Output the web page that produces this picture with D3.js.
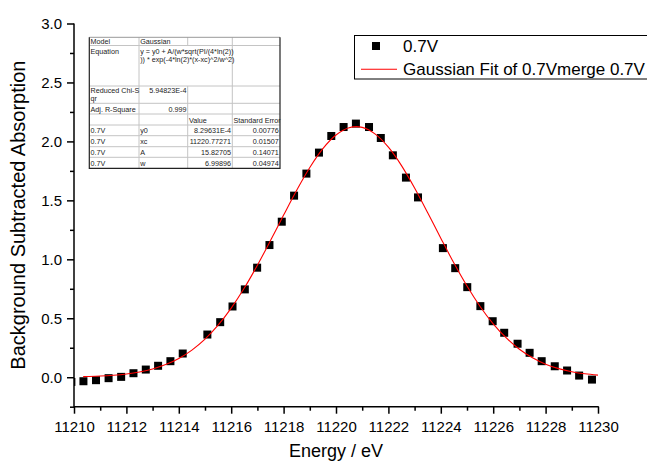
<!DOCTYPE html>
<html>
<head>
<meta charset="utf-8">
<script src="https://cdn.jsdelivr.net/npm/d3@7"></script>
<style>
  html, body { margin: 0; padding: 0; background: #fff; }
  svg { display: block; }
  text { font-family: Arial, "Liberation Sans", sans-serif; }
</style>
</head>
<body>
<svg id="chart" width="647" height="464"></svg>
<script>
// ---- data ----
const energy = [11209.9, 11210.36, 11210.84, 11211.32, 11211.80, 11212.27, 11212.74, 11213.21, 11213.68, 11214.15,
  11215.09, 11215.58, 11216.05, 11216.52, 11216.99, 11217.46, 11217.93, 11218.40, 11218.87, 11219.35,
  11219.82, 11220.29, 11220.76, 11221.26, 11221.71, 11222.17, 11222.67, 11223.13, 11224.08, 11224.55,
  11225.01, 11225.51, 11225.98, 11226.42, 11226.93, 11227.39, 11227.85, 11228.35, 11228.82, 11229.28, 11229.77];
const absorption = [-0.04, -0.034, -0.025, -0.008, 0.003, 0.034, 0.065, 0.097, 0.136, 0.201,
  0.362, 0.467, 0.600, 0.745, 0.929, 1.121, 1.319, 1.540, 1.727, 1.905,
  2.046, 2.122, 2.151, 2.122, 2.029, 1.882, 1.693, 1.525, 1.095, 0.925,
  0.764, 0.603, 0.475, 0.377, 0.284, 0.207, 0.136, 0.093, 0.057, 0.014, -0.020];

const fitEnergy = [11210.35, 11210.5, 11211, 11211.5, 11212, 11212.5, 11213, 11213.5, 11214, 11214.5,
  11215, 11215.5, 11216, 11216.5, 11217, 11217.5, 11218, 11218.5, 11219, 11219.5,
  11220, 11220.5, 11220.77, 11221, 11221.5, 11222, 11222.5, 11223, 11223.5, 11224,
  11224.5, 11225, 11225.5, 11226, 11226.5, 11227, 11227.5, 11228, 11228.5, 11229, 11229.5, 11230];
const fitValues = [0.005, 0.006, 0.010, 0.017, 0.028, 0.045, 0.070, 0.107, 0.159, 0.230,
  0.323, 0.441, 0.586, 0.756, 0.950, 1.159, 1.375, 1.586, 1.779, 1.939,
  2.054, 2.116, 2.125, 2.119, 2.062, 1.951, 1.795, 1.605, 1.395, 1.179,
  0.968, 0.773, 0.600, 0.453, 0.333, 0.237, 0.165, 0.111, 0.073, 0.047, 0.029, 0.018];

const xMajorTicks = [11210, 11212, 11214, 11216, 11218, 11220, 11222, 11224, 11226, 11228, 11230];
const xMinorTicks = [11211, 11213, 11215, 11217, 11219, 11221, 11223, 11225, 11227, 11229];
const yMajorTicks = [0.0, 0.5, 1.0, 1.5, 2.0, 2.5, 3.0];
const yMinorTicks = [-0.25, 0.25, 0.75, 1.25, 1.75, 2.25, 2.75];

const seriesName = "0.7V";
const fitName = "Gaussian Fit of 0.7Vmerge 0.7V";
const xTitle = "Energy / eV";
const yTitle = "Background Subtracted Absorption";

const tableColLabels = ["", "", "Value", "Standard Error"];
const tableModel = ["Model", "Gaussian"];
const tableEquation = ["Equation", "y = y0 + A/(w*sqrt(PI/(4*ln(2))", ")) * exp(-4*ln(2)*(x-xc)^2/w^2)"];
const tableChi = ["Reduced Chi-S", "qr", "5.94823E-4"];
const tableR2 = ["Adj. R-Square", "0.999"];
const paramSeries = ["0.7V", "0.7V", "0.7V", "0.7V"];
const paramNames = ["y0", "xc", "A", "w"];
const paramValues = ["8.29631E-4", "11220.77271", "15.82705", "6.99896"];
const paramErrors = ["0.00776", "0.01507", "0.14071", "0.04974"];

// ---- layout ----
const svg = d3.select("#chart");
const plot = { left: 74, right: 598, top: 23.5, bottom: 406.7 };

const x = d3.scaleLinear().domain([11210, 11230]).range([plot.left, plot.right]);
const y = d3.scaleLinear().domain([-0.25, 3.0]).range([plot.bottom, plot.top]);

svg.append("defs").append("clipPath").attr("id", "clip")
  .append("rect")
  .attr("x", plot.left).attr("y", plot.top - 5)
  .attr("width", plot.right - plot.left + 5).attr("height", plot.bottom - plot.top + 5);

// ---- axes ----
const tickFont = "15px";
const xAxisMajor = d3.axisBottom(x).tickValues(xMajorTicks).tickSize(7).tickPadding(8).tickFormat(d3.format("d"));
const xAxisMinor = d3.axisBottom(x).tickValues(xMinorTicks).tickSize(4).tickFormat("");
const yAxisMajor = d3.axisLeft(y).tickValues(yMajorTicks).tickSize(7).tickPadding(5).tickFormat(d3.format(".1f"));
const yAxisMinor = d3.axisLeft(y).tickValues(yMinorTicks).tickSize(4).tickFormat("");

function styleAxis(g) {
  g.select(".domain").remove();
  g.selectAll("line").attr("stroke", "#000").attr("stroke-width", 1.5);
  g.selectAll("text").attr("fill", "#000").style("font-size", tickFont)
    .style("font-family", "Arial, 'Liberation Sans', sans-serif");
}

svg.append("g").attr("transform", `translate(0,${plot.bottom})`).call(xAxisMinor).call(styleAxis);
svg.append("g").attr("transform", `translate(0,${plot.bottom})`).call(xAxisMajor).call(styleAxis);
svg.append("g").attr("transform", `translate(${plot.left},0)`).call(yAxisMinor).call(styleAxis);
svg.append("g").attr("transform", `translate(${plot.left},0)`).call(yAxisMajor).call(styleAxis);

// axis lines
svg.append("line").attr("x1", plot.left).attr("x2", plot.right + 0.75)
  .attr("y1", plot.bottom).attr("y2", plot.bottom).attr("stroke", "#000").attr("stroke-width", 1.5);
svg.append("line").attr("x1", plot.left).attr("x2", plot.left)
  .attr("y1", plot.top).attr("y2", plot.bottom + 0.75).attr("stroke", "#000").attr("stroke-width", 1.5);

// axis titles
svg.append("text").attr("x", (plot.left + plot.right) / 2).attr("y", 457)
  .attr("text-anchor", "middle").style("font-size", "18px").text(xTitle);
svg.append("text").attr("transform", `translate(25,${(plot.top + plot.bottom) / 2}) rotate(-90)`)
  .attr("text-anchor", "middle").style("font-size", "20px").text(yTitle);

// ---- data ----
const dataG = svg.append("g").attr("clip-path", "url(#clip)");
const pts = energy.map((e, i) => ({ e, v: absorption[i] }));
const sq = 8;
dataG.selectAll("rect.pt").data(pts).join("rect").attr("class", "pt")
  .attr("x", d => x(d.e) - sq / 2).attr("y", d => y(d.v) - sq / 2)
  .attr("width", sq).attr("height", sq).attr("fill", "#000");

const fit = fitEnergy.map((e, i) => ({ e, v: fitValues[i] }));
dataG.append("path").datum(fit)
  .attr("d", d3.line().x(d => x(d.e)).y(d => y(d.v)).curve(d3.curveMonotoneX))
  .attr("fill", "none").attr("stroke", "#ff0000").attr("stroke-width", 1.1);

// ---- legend ----
const lg = svg.append("g");
lg.append("rect").attr("x", 354.5).attr("y", 35.5).attr("width", 300).attr("height", 43.5)
  .attr("fill", "#fff").attr("stroke", "#000").attr("stroke-width", 1);
lg.append("rect").attr("x", 376 - sq / 2).attr("y", 46 - sq / 2).attr("width", sq).attr("height", sq).attr("fill", "#000");
lg.append("text").attr("x", 403).attr("y", 46).attr("dy", "0.35em").style("font-size", "17px").text(seriesName);
lg.append("line").attr("x1", 361).attr("x2", 397).attr("y1", 69.3).attr("y2", 69.3)
  .attr("stroke", "#ff0000").attr("stroke-width", 1.1);
lg.append("text").attr("x", 403).attr("y", 69).attr("dy", "0.35em").style("font-size", "17px").text(fitName);

// ---- fit table ----
const cols = [89.3, 139, 187.7, 232.3, 280];
const rowsY = [37.3, 45.5, 86, 103.3, 114, 125, 135.7, 146.7, 157.3, 168.3];
const tg = svg.append("g");
tg.append("rect").attr("x", cols[0]).attr("y", rowsY[0]).attr("width", cols[4] - cols[0])
  .attr("height", rowsY[9] - rowsY[0]).attr("fill", "#fff");
const gridC = "#c4c4c4";
rowsY.slice(1, -1).forEach(yy => {
  tg.append("line").attr("x1", cols[0]).attr("x2", cols[4]).attr("y1", yy).attr("y2", yy)
    .attr("stroke", gridC).attr("stroke-width", 1);
});
[cols[1], cols[3]].forEach(xx => {
  tg.append("line").attr("x1", xx).attr("x2", xx).attr("y1", rowsY[0]).attr("y2", rowsY[9])
    .attr("stroke", gridC).attr("stroke-width", 1);
});
tg.append("line").attr("x1", cols[2]).attr("x2", cols[2]).attr("y1", rowsY[0]).attr("y2", rowsY[1])
  .attr("stroke", gridC).attr("stroke-width", 1);
tg.append("line").attr("x1", cols[2]).attr("x2", cols[2]).attr("y1", rowsY[2]).attr("y2", rowsY[9])
  .attr("stroke", gridC).attr("stroke-width", 1);
tg.append("line").attr("x1", cols[0]).attr("x2", cols[4]).attr("y1", rowsY[0]).attr("y2", rowsY[0])
  .attr("stroke", "#999").attr("stroke-width", 1);
tg.append("path")
  .attr("d", `M${cols[0]},${rowsY[0]} V${rowsY[9]} H${cols[4]} V${rowsY[0]}`)
  .attr("fill", "none").attr("stroke", "#222").attr("stroke-width", 1.2);

const tf = "7.2px";
function cell(txt, xx, yy, anchor) {
  tg.append("text").attr("x", xx).attr("y", yy).attr("text-anchor", anchor || "start")
    .style("font-size", tf).attr("fill", "#222").text(txt);
}
const pad = 1.2;
cell(tableModel[0], cols[0] + pad, 44);
cell(tableModel[1], cols[1] + pad, 44);
cell(tableEquation[0], cols[0] + pad, 53.5);
cell(tableEquation[1], cols[1] + pad, 53.5);
cell(tableEquation[2], cols[1] + pad, 61.5);
cell(tableChi[0], cols[0] + pad, 93);
cell(tableChi[1], cols[0] + pad, 100.5);
cell(tableChi[2], cols[2] - pad, 93, "end");
cell(tableR2[0], cols[0] + pad, 111.5);
cell(tableR2[1], cols[2] - pad, 111.5, "end");
cell(tableColLabels[2], cols[2] + pad, 122.5);
cell(tableColLabels[3], cols[3] + pad, 122.5);
const paramBase = [133, 144, 155, 165.5];
paramNames.forEach((p, i) => {
  cell(paramSeries[i], cols[0] + pad, paramBase[i]);
  cell(p, cols[1] + pad, paramBase[i]);
  cell(paramValues[i], cols[3] - pad, paramBase[i], "end");
  cell(paramErrors[i], cols[4] - pad, paramBase[i], "end");
});
</script>
</body>
</html>
